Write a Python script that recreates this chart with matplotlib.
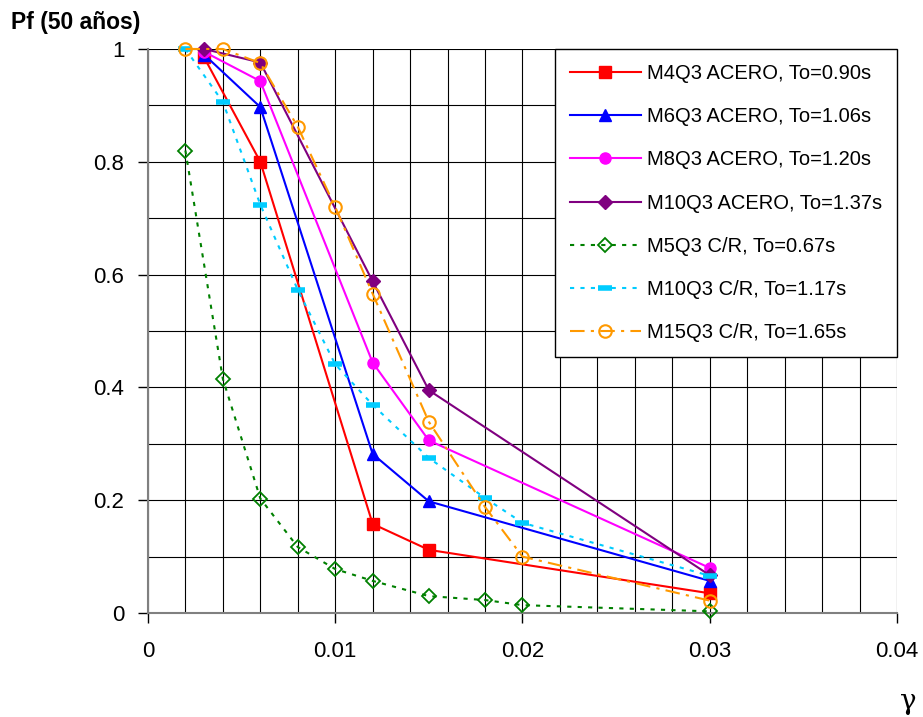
import numpy as np
import matplotlib
matplotlib.use('Agg')
import matplotlib.pyplot as plt
from matplotlib.ticker import MultipleLocator

plt.rcParams['font.family'] = ['Liberation Sans', 'DejaVu Sans']

# steel frames (ACERO)
x_acero = [0.003, 0.006, 0.012, 0.015, 0.03]
m4q3 = [0.985, 0.80, 0.158, 0.112, 0.035]
m6q3 = [0.99, 0.897, 0.282, 0.198, 0.057]
m8q3 = [0.995, 0.943, 0.444, 0.306, 0.08]
m10q3 = [1.0, 0.976, 0.588, 0.395, 0.067]

# reinforced concrete frames (C/R)
x_cr = [0.002, 0.004, 0.006, 0.008, 0.01, 0.012, 0.015, 0.018, 0.02, 0.03]
m5q3_cr = [0.82, 0.415, 0.203, 0.117, 0.078, 0.057, 0.03, 0.023, 0.014, 0.003]
m10q3_cr = [1.0, 0.906, 0.724, 0.573, 0.441, 0.369, 0.275, 0.204, 0.16, 0.066]
m15q3_cr = [1.0, 1.0, 0.975, 0.862, 0.72, 0.566, 0.339, 0.188, 0.1, 0.022]

labels = ['M4Q3 ACERO, To=0.90s', 'M6Q3 ACERO, To=1.06s', 'M8Q3 ACERO, To=1.20s',
          'M10Q3 ACERO, To=1.37s', 'M5Q3 C/R, To=0.67s', 'M10Q3 C/R, To=1.17s',
          'M15Q3 C/R, To=1.65s']

xticks = [0, 0.01, 0.02, 0.03, 0.04]
xticklabels = ['0', '0.01', '0.02', '0.03', '0.04']
yticks = [0, 0.2, 0.4, 0.6, 0.8, 1.0]
yticklabels = ['0', '0.2', '0.4', '0.6', '0.8', '1']

fig = plt.figure(figsize=(9.23, 7.17), dpi=100)
ax = fig.add_axes([0.1603, 0.145, 0.8115, 0.7867])

ax.plot(x_acero, m4q3, color='red', lw=1.5, marker='s', ms=8, label=labels[0], clip_on=False, zorder=5)
ax.plot(x_acero, m6q3, color='blue', lw=1.5, marker='^', ms=9, label=labels[1], clip_on=False, zorder=5)
ax.plot(x_acero, m8q3, color='#ff00ff', lw=1.5, marker='o', ms=8, label=labels[2], clip_on=False, zorder=5)
ax.plot(x_acero, m10q3, color='#800080', lw=1.5, marker='D', ms=7, label=labels[3], clip_on=False, zorder=5)
ax.plot(x_cr, m5q3_cr, color='green', lw=1.5, ls=(0, (2, 3)), marker='D', ms=7, mfc='none',
        mew=1.3, label=labels[4], clip_on=False, zorder=5)
ax.plot(x_cr, m10q3_cr, color='#00ccff', lw=1.5, ls=(0, (2, 3)), marker='_', ms=10, mew=4,
        label=labels[5], clip_on=False, zorder=5)
ax.plot(x_cr, m15q3_cr, color='#ff9900', lw=1.5, ls=(0, (7, 3, 1.5, 3)), marker='o', ms=9, mfc='none',
        mew=1.5, label=labels[6], clip_on=False, zorder=5)

ax.set_xlim(0, 0.04)
ax.set_ylim(0, 1)
ax.set_xticks(xticks)
ax.set_xticklabels(xticklabels)
ax.set_yticks(yticks)
ax.set_yticklabels(yticklabels)
ax.xaxis.set_minor_locator(MultipleLocator(0.002))
ax.yaxis.set_minor_locator(MultipleLocator(0.1))
ax.grid(which='both', color='black', lw=0.8)
ax.tick_params(which='major', direction='out', length=7, width=1, labelsize=16, pad=10)
ax.tick_params(axis='x', pad=13)
ax.tick_params(which='minor', length=0)
for s in ['top', 'right']:
    ax.spines[s].set_visible(False)
for s in ['left', 'bottom']:
    ax.spines[s].set_color('#808080')
    ax.spines[s].set_linewidth(1.5)

leg = ax.legend(loc='upper right', bbox_to_anchor=(1.0, 1.0), fontsize=14.5, frameon=True,
                fancybox=False, edgecolor='black', framealpha=1, borderpad=0.75,
                labelspacing=1.2, handlelength=3.5, handletextpad=0.3, borderaxespad=0)
leg.get_frame().set_linewidth(1.0)
leg.set_zorder(10)

fig.text(0.012, 0.968, 'Pf (50 años)', fontsize=16.5, fontweight='bold', va='center', ha='left')
fig.text(0.993, 0.003, 'γ', fontsize=20, family='DejaVu Serif', va='bottom', ha='right')

fig.savefig('out.png', dpi=100)
